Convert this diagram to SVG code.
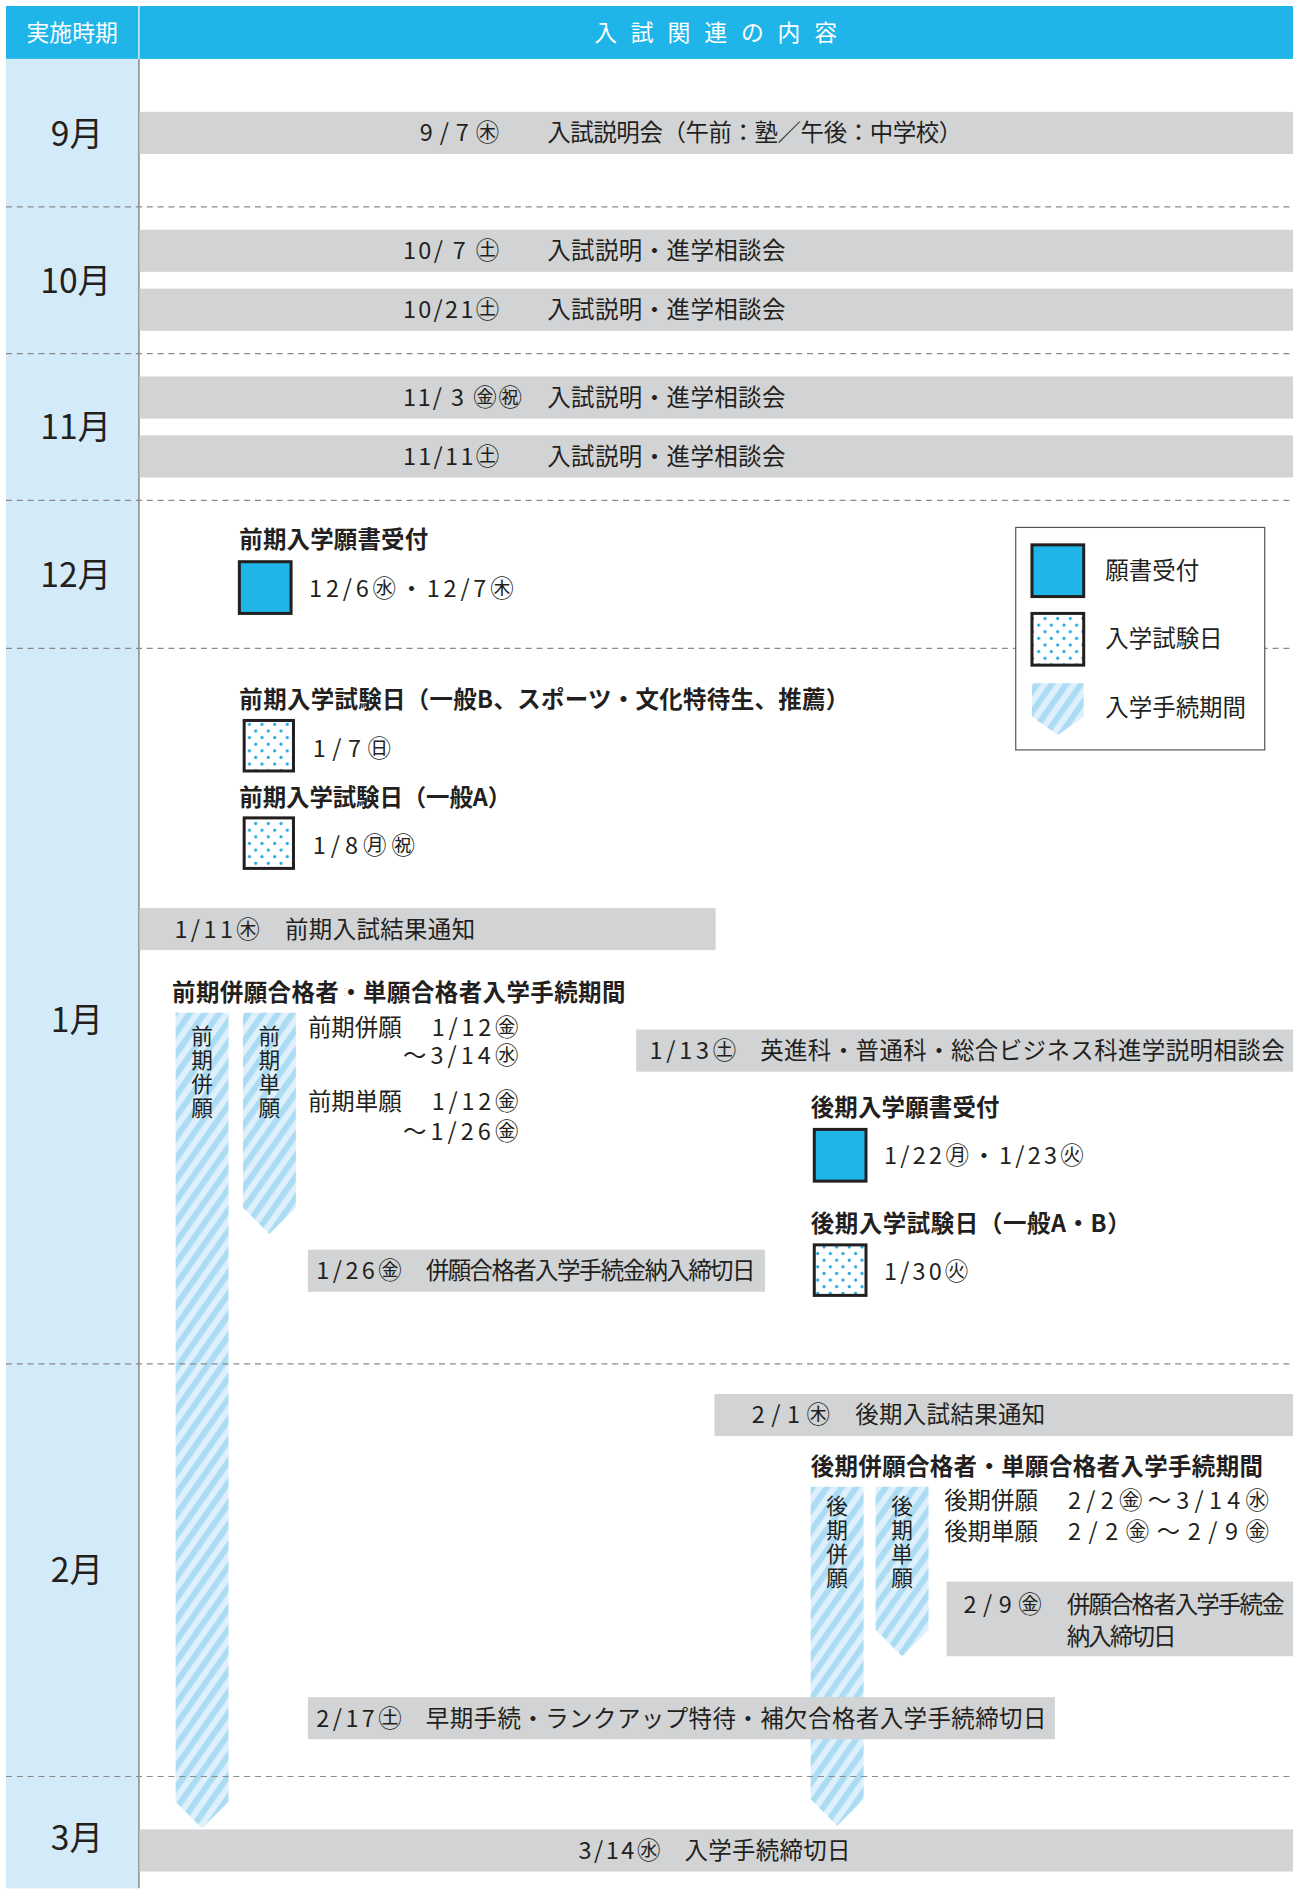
<svg xmlns="http://www.w3.org/2000/svg" width="1299" height="1889" viewBox="0 0 1299 1889">
<defs>
<pattern id="stripe" patternUnits="userSpaceOnUse" width="10" height="10" patternTransform="rotate(35)">
<rect width="10" height="10" fill="#ddf0fb"/>
<rect width="5" height="10" fill="#acdcf4"/>
</pattern>
<pattern id="dots" patternUnits="userSpaceOnUse" width="10.5" height="11">
<rect width="10.5" height="11" fill="#ffffff"/>
<circle cx="2.6" cy="2.75" r="1.3" fill="#1fa6df"/>
<circle cx="7.85" cy="8.25" r="1.3" fill="#1fa6df"/>
</pattern>
<style>
text{font-family:"Noto Sans CJK JP","Noto Sans CJK SC",sans-serif;fill:#231f20;font-size:19.5px}
.hd{fill:#ffffff;font-size:19px}
.mo{font-size:28px;text-anchor:middle}
.b{font-weight:bold}
.bar{fill:#d1d3d4}
.dash{stroke:#8a8a8a;stroke-width:1;stroke-dasharray:5 4;fill:none}
.sq{stroke:#231f20;stroke-width:2.5}
.blue{fill:#1fb5e9}
.dot{fill:url(#dots)}
.str{fill:url(#stripe)}
.vt{writing-mode:vertical-rl;font-size:18px;letter-spacing:2px}
</style>
</defs>
<rect width="1299" height="1889" fill="#ffffff"/>
<g transform="scale(1.2027778)">
<g id="header">
<rect x="5" y="5" width="110" height="44" fill="#1fb5e9"/>
<rect x="116" y="5" width="959" height="44" fill="#1fb5e9"/>
<text class="hd" x="60" y="34" text-anchor="middle">実施時期</text>
<text class="hd" x="494" y="34" letter-spacing="11.5">入試関連の内容</text>
</g>
<g id="period-column">
<rect x="5" y="49" width="110" height="1521" fill="#d3ebf8"/>
<line x1="115.5" y1="49" x2="115.5" y2="1570" stroke="#9a9a9a" stroke-width="1.5"/>
<text class="mo" x="64" y="121">9月</text>
<text class="mo" x="63" y="244">10月</text>
<text class="mo" x="63" y="365">11月</text>
<text class="mo" x="63" y="488">12月</text>
<text class="mo" x="64" y="858">1月</text>
<text class="mo" x="64" y="1315">2月</text>
<text class="mo" x="64" y="1538">3月</text>
</g>
<g id="stripes">
<polygon class="str" points="146,842 190,842 190,1498 168,1520 146,1498"/>
<polygon class="str" points="202,842 246,842 246,1004 224,1026 202,1004"/>
<polygon class="str" points="674,1236 718,1236 718,1496 696,1518 674,1496"/>
<polygon class="str" points="728,1236 772,1236 772,1355 750,1377 728,1355"/>
<text class="vt" x="168" y="852">前期併願</text>
<text class="vt" x="224" y="852">前期単願</text>
<text class="vt" x="696" y="1243">後期併願</text>
<text class="vt" x="750" y="1243">後期単願</text>
</g>
<g id="month-dividers">
<line class="dash" x1="5" y1="172" x2="1075" y2="172"/>
<line class="dash" x1="5" y1="294" x2="1075" y2="294"/>
<line class="dash" x1="5" y1="416" x2="1075" y2="416"/>
<line class="dash" x1="5" y1="539" x2="1075" y2="539"/>
<line class="dash" x1="5" y1="1134" x2="1075" y2="1134"/>
<line class="dash" x1="5" y1="1477" x2="1075" y2="1477"/>
</g>
<g id="ev-0907">
<rect class="bar" x="116" y="93" width="959" height="35"/>
<text x="349" y="117.5" textLength="66" lengthAdjust="spacing">9/7㊍</text>
<text x="455" y="117.5" textLength="345" lengthAdjust="spacing">入試説明会（午前：塾／午後：中学校）</text>
</g>
<g id="ev-1007">
<rect class="bar" x="116" y="191" width="959" height="35"/>
<text x="335" y="215.5" textLength="80" lengthAdjust="spacing">10/ 7 ㊏</text>
<text x="455" y="215.5" textLength="198" lengthAdjust="spacing">入試説明・進学相談会</text>
</g>
<g id="ev-1021">
<rect class="bar" x="116" y="240" width="959" height="35"/>
<text x="335" y="264.5" textLength="80" lengthAdjust="spacing">10/21㊏</text>
<text x="455" y="264.5" textLength="198" lengthAdjust="spacing">入試説明・進学相談会</text>
</g>
<g id="ev-1103">
<rect class="bar" x="116" y="313" width="959" height="35"/>
<text x="335" y="337.5" textLength="99" lengthAdjust="spacing">11/ 3 ㊎㊗</text>
<text x="455" y="337.5" textLength="198" lengthAdjust="spacing">入試説明・進学相談会</text>
</g>
<g id="ev-1111">
<rect class="bar" x="116" y="362" width="959" height="35"/>
<text x="335" y="386.5" textLength="80" lengthAdjust="spacing">11/11㊏</text>
<text x="455" y="386.5" textLength="198" lengthAdjust="spacing">入試説明・進学相談会</text>
</g>
<g id="early-application">
<text class="b" x="199" y="456" textLength="157" lengthAdjust="spacing">前期入学願書受付</text>
<rect class="sq blue" x="199" y="467" width="43" height="43"/>
<text x="257" y="496" font-size="21" textLength="170" lengthAdjust="spacing">12/6㊌・12/7㊍</text>
</g>
<g id="legend">
<rect x="844.5" y="438.5" width="207" height="185" fill="#ffffff" stroke="#555555" stroke-width="1"/>
<rect class="sq blue" x="858" y="453" width="43" height="43"/>
<text x="919" y="481">願書受付</text>
<rect class="sq dot" x="858" y="510" width="43" height="43"/>
<text x="919" y="538">入学試験日</text>
<polygon class="str" points="858,568 901,568 901,596 879.5,611 858,596"/>
<text x="919" y="595">入学手続期間</text>
</g>
<g id="early-exam-b">
<text class="b" x="199" y="589" textLength="507" lengthAdjust="spacing">前期入学試験日（一般B、スポーツ・文化特待生、推薦）</text>
<rect class="sq dot" x="203" y="599" width="41" height="42"/>
<text x="260" y="629" textLength="65" lengthAdjust="spacing">1/7㊐</text>
</g>
<g id="early-exam-a">
<text class="b" x="199" y="670" textLength="226" lengthAdjust="spacing">前期入学試験日（一般A）</text>
<rect class="sq dot" x="203" y="680" width="41" height="42"/>
<text x="260" y="710" textLength="85" lengthAdjust="spacing">1/8㊊㊗</text>
</g>
<g id="ev-0111">
<rect class="bar" x="116" y="755" width="479" height="35"/>
<text x="145" y="779.5" textLength="71" lengthAdjust="spacing">1/11㊍</text>
<text x="237" y="779.5" textLength="158" lengthAdjust="spacing">前期入試結果通知</text>
</g>
<g id="early-procedure">
<text class="b" x="143" y="832" textLength="377" lengthAdjust="spacing">前期併願合格者・単願合格者入学手続期間</text>
<text x="256" y="861">前期併願</text>
<text x="359" y="861" textLength="72" lengthAdjust="spacing">1/12㊎</text>
<text x="335" y="885" textLength="96" lengthAdjust="spacing">～3/14㊌</text>
<text x="256" y="923">前期単願</text>
<text x="359" y="923" textLength="72" lengthAdjust="spacing">1/12㊎</text>
<text x="335" y="948" textLength="96" lengthAdjust="spacing">～1/26㊎</text>
</g>
<g id="ev-0113">
<rect class="bar" x="529" y="856" width="546" height="35"/>
<text x="540" y="880.5" textLength="72" lengthAdjust="spacing">1/13㊏</text>
<text x="632" y="880.5" textLength="436" lengthAdjust="spacing">英進科・普通科・総合ビジネス科進学説明相談会</text>
</g>
<g id="late-application">
<text class="b" x="674" y="928" textLength="157" lengthAdjust="spacing">後期入学願書受付</text>
<rect class="sq blue" x="677" y="939" width="43" height="43"/>
<text x="735" y="968" textLength="166" lengthAdjust="spacing">1/22㊊・1/23㊋</text>
</g>
<g id="late-exam">
<text class="b" x="674" y="1024" textLength="266" lengthAdjust="spacing">後期入学試験日（一般A・B）</text>
<rect class="sq dot" x="677" y="1035" width="43" height="42"/>
<text x="735" y="1064" textLength="70" lengthAdjust="spacing">1/30㊋</text>
</g>
<g id="ev-0126">
<rect class="bar" x="256" y="1039" width="380" height="35"/>
<text x="263" y="1063.5" textLength="71" lengthAdjust="spacing">1/26㊎</text>
<text x="354" y="1063.5" textLength="274" lengthAdjust="spacing">併願合格者入学手続金納入締切日</text>
</g>
<g id="ev-0201">
<rect class="bar" x="594" y="1159" width="481" height="35"/>
<text x="625" y="1183.5" textLength="65" lengthAdjust="spacing">2/1㊍</text>
<text x="711" y="1183.5" textLength="158" lengthAdjust="spacing">後期入試結果通知</text>
</g>
<g id="late-procedure">
<text class="b" x="674" y="1226" textLength="376" lengthAdjust="spacing">後期併願合格者・単願合格者入学手続期間</text>
<text x="785" y="1255">後期併願</text>
<text x="888" y="1255" textLength="167" lengthAdjust="spacing">2/2㊎～3/14㊌</text>
<text x="785" y="1280">後期単願</text>
<text x="888" y="1280" textLength="167" lengthAdjust="spacing">2/2㊎～2/9㊎</text>
</g>
<g id="ev-0209">
<rect class="bar" x="787" y="1315" width="288" height="62"/>
<text x="801" y="1341" textLength="65" lengthAdjust="spacing">2/9㊎</text>
<text x="887" y="1341" textLength="181" lengthAdjust="spacing">併願合格者入学手続金</text>
<text x="887" y="1368" textLength="91" lengthAdjust="spacing">納入締切日</text>
</g>
<g id="ev-0217">
<rect class="bar" x="256" y="1411" width="621" height="35"/>
<text x="263" y="1435.5" textLength="71" lengthAdjust="spacing">2/17㊏</text>
<text x="354" y="1435.5" textLength="516" lengthAdjust="spacing">早期手続・ランクアップ特待・補欠合格者入学手続締切日</text>
</g>
<g id="ev-0314">
<rect class="bar" x="116" y="1521" width="959" height="35"/>
<text x="481" y="1545.5" textLength="68" lengthAdjust="spacing">3/14㊌</text>
<text x="569" y="1545.5" textLength="138" lengthAdjust="spacing">入学手続締切日</text>
</g>
</g>
</svg>
